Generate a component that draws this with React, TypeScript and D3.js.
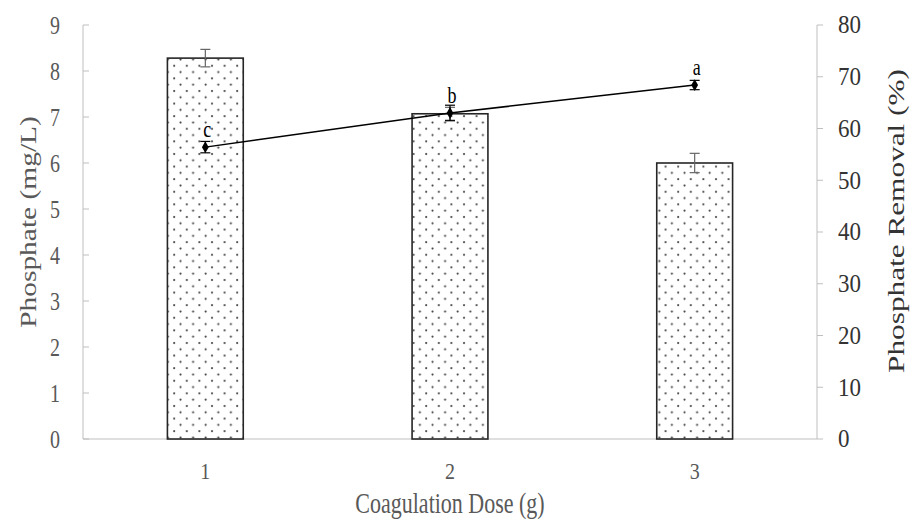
import * as d3 from "d3"
import { useEffect, useRef } from "react"

const doses = ["1", "2", "3"]
const phosphate = [8.28, 7.07, 6.0]
const phosphateErr = [0.19, 0.14, 0.21]
const removal = [56.4, 63.0, 68.4]
const removalErr = [1.1, 1.5, 0.9]
const letters = ["c", "b", "a"]
const leftTicks = [0, 1, 2, 3, 4, 5, 6, 7, 8, 9]
const rightTicks = [0, 10, 20, 30, 40, 50, 60, 70, 80]

const App: React.FC = () => {
  const svgRef = useRef<SVGSVGElement | null>(null)

  useEffect(() => {
    if (!svgRef.current) return
    const svg = d3.select(svgRef.current)
    svg.selectAll("*").remove()

    const W = 914
    const H = 523
    const margin = { top: 25, right: 97, bottom: 84, left: 83 }
    const innerW = W - margin.left - margin.right
    const innerH = H - margin.top - margin.bottom
    const font = "'Liberation Serif', 'Times New Roman', serif"
    const gray = "#595959"
    const axisGray = "#bfbfbf"

    // dotted fill pattern
    const defs = svg.append("defs")
    const pat = defs
      .append("pattern")
      .attr("id", "dots")
      .attr("patternUnits", "userSpaceOnUse")
      .attr("width", 12.6)
      .attr("height", 12.6)
    pat.append("rect").attr("width", 12.6).attr("height", 12.6).attr("fill", "#fff")
    pat.append("circle").attr("cx", 3).attr("cy", 3).attr("r", 1.05).attr("fill", "#3a3a3a")
    pat.append("circle").attr("cx", 9.3).attr("cy", 9.3).attr("r", 1.05).attr("fill", "#3a3a3a")

    const g = svg.append("g").attr("transform", `translate(${margin.left},${margin.top})`)

    const x = d3.scaleBand().domain(doses).range([0, innerW]).padding(0)
    const yL = d3.scaleLinear().domain([0, 9]).range([innerH, 0])
    const yR = d3.scaleLinear().domain([0, 80]).range([innerH, 0])
    const barW = x.bandwidth() * 0.31
    const cx = (d: string) => x(d)! + x.bandwidth() / 2

    // bottom axis line
    g.append("line")
      .attr("x1", 0)
      .attr("x2", innerW)
      .attr("y1", innerH)
      .attr("y2", innerH)
      .attr("stroke", axisGray)
      .attr("stroke-width", 1)

    // left axis
    g.append("line")
      .attr("x1", 0)
      .attr("x2", 0)
      .attr("y1", 0)
      .attr("y2", innerH)
      .attr("stroke", axisGray)
    g.selectAll(".ltick")
      .data(leftTicks)
      .enter()
      .append("line")
      .attr("x1", 0)
      .attr("x2", 6)
      .attr("y1", (d) => yL(d))
      .attr("y2", (d) => yL(d))
      .attr("stroke", axisGray)
    g.selectAll(".llab")
      .data(leftTicks)
      .enter()
      .append("text")
      .attr("transform", (d) => `translate(-23,${yL(d)}) scale(1,1.3)`)
      .attr("dy", "0.35em")
      .attr("text-anchor", "end")
      .attr("fill", gray)
      .style("font", `20px ${font}`)
      .text((d) => d)

    // right axis
    g.append("line")
      .attr("x1", innerW)
      .attr("x2", innerW)
      .attr("y1", 0)
      .attr("y2", innerH)
      .attr("stroke", axisGray)
    g.selectAll(".rtick")
      .data(rightTicks)
      .enter()
      .append("line")
      .attr("x1", innerW)
      .attr("x2", innerW + 6)
      .attr("y1", (d) => yR(d))
      .attr("y2", (d) => yR(d))
      .attr("stroke", axisGray)
    g.selectAll(".rlab")
      .data(rightTicks)
      .enter()
      .append("text")
      .attr("transform", (d) => `translate(${innerW + 21},${yR(d)}) scale(1,1.05)`)
      .attr("dy", "0.35em")
      .attr("text-anchor", "start")
      .attr("fill", "#333")
      .style("font", `23px ${font}`)
      .text((d) => d)

    // x tick labels
    g.selectAll(".xlab")
      .data(doses)
      .enter()
      .append("text")
      .attr("transform", (d) => `translate(${cx(d)},${innerH + 40}) scale(1,1.15)`)
      .attr("text-anchor", "middle")
      .attr("fill", gray)
      .style("font", `20px ${font}`)
      .text((d) => d)

    // axis titles
    svg
      .append("text")
      .attr("transform", `translate(${margin.left + innerW / 2},513) scale(1,1.35)`)
      .attr("text-anchor", "middle")
      .attr("fill", gray)
      .style("font", `22px ${font}`)
      .text("Coagulation Dose (g)")
    svg
      .append("text")
      .attr("transform", `translate(36,222) rotate(-90) scale(1.28,1)`)
      .attr("text-anchor", "middle")
      .attr("fill", gray)
      .style("font", `23px ${font}`)
      .text("Phosphate (mg/L)")
    svg
      .append("text")
      .attr("transform", `translate(904,221) rotate(-90) scale(1.36,1)`)
      .attr("text-anchor", "middle")
      .attr("fill", "#333")
      .style("font", `23px ${font}`)
      .text("Phosphate Removal (%)")

    // bars
    g.selectAll(".bar")
      .data(doses)
      .enter()
      .append("rect")
      .attr("x", (d) => cx(d) - barW / 2)
      .attr("y", (_, i) => yL(phosphate[i]))
      .attr("width", barW)
      .attr("height", (_, i) => innerH - yL(phosphate[i]))
      .attr("fill", "url(#dots)")
      .attr("stroke", "#262626")
      .attr("stroke-width", 1.6)

    // bar error bars
    doses.forEach((d, i) => {
      const hi = yL(phosphate[i] + phosphateErr[i])
      const lo = yL(phosphate[i] - phosphateErr[i])
      const c = cx(d)
      const eg = g.append("g").attr("stroke", "#666").attr("stroke-width", 1.2)
      eg.append("line").attr("x1", c).attr("x2", c).attr("y1", hi).attr("y2", lo)
      eg.append("line").attr("x1", c - 5).attr("x2", c + 5).attr("y1", hi).attr("y2", hi)
      eg.append("line").attr("x1", c - 5).attr("x2", c + 5).attr("y1", lo).attr("y2", lo)
    })

    // removal line
    const line = d3
      .line<number>()
      .x((_, i) => cx(doses[i]))
      .y((v) => yR(v))
    g.append("path")
      .datum(removal)
      .attr("d", line)
      .attr("fill", "none")
      .attr("stroke", "#000")
      .attr("stroke-width", 1.5)

    removal.forEach((v, i) => {
      const c = cx(doses[i])
      const hi = yR(v + removalErr[i])
      const lo = yR(v - removalErr[i])
      const eg = g.append("g").attr("stroke", "#000").attr("stroke-width", 1.2)
      eg.append("line").attr("x1", c).attr("x2", c).attr("y1", hi).attr("y2", lo)
      eg.append("line").attr("x1", c - 5).attr("x2", c + 5).attr("y1", hi).attr("y2", hi)
      eg.append("line").attr("x1", c - 5).attr("x2", c + 5).attr("y1", lo).attr("y2", lo)
    })

    g.selectAll(".marker")
      .data(removal)
      .enter()
      .append("path")
      .attr("d", d3.symbol(d3.symbolDiamond, 40)())
      .attr("transform", (v, i) => `translate(${cx(doses[i])},${yR(v)})`)
      .attr("fill", "#000")

    g.selectAll(".letter")
      .data(letters)
      .enter()
      .append("text")
      .attr("transform", (_, i) => `translate(${cx(doses[i]) + 2},${yR(removal[i]) - 10}) scale(1,1.3)`)
      .attr("text-anchor", "middle")
      .attr("fill", "#000")
      .style("font", `18px ${font}`)
      .text((d) => d)
  }, [])

  return (
    <svg
      ref={svgRef}
      width={914}
      height={523}
      style={{ position: "absolute", left: 0, top: 0, background: "#fff" }}
    />
  )
}

export default App
